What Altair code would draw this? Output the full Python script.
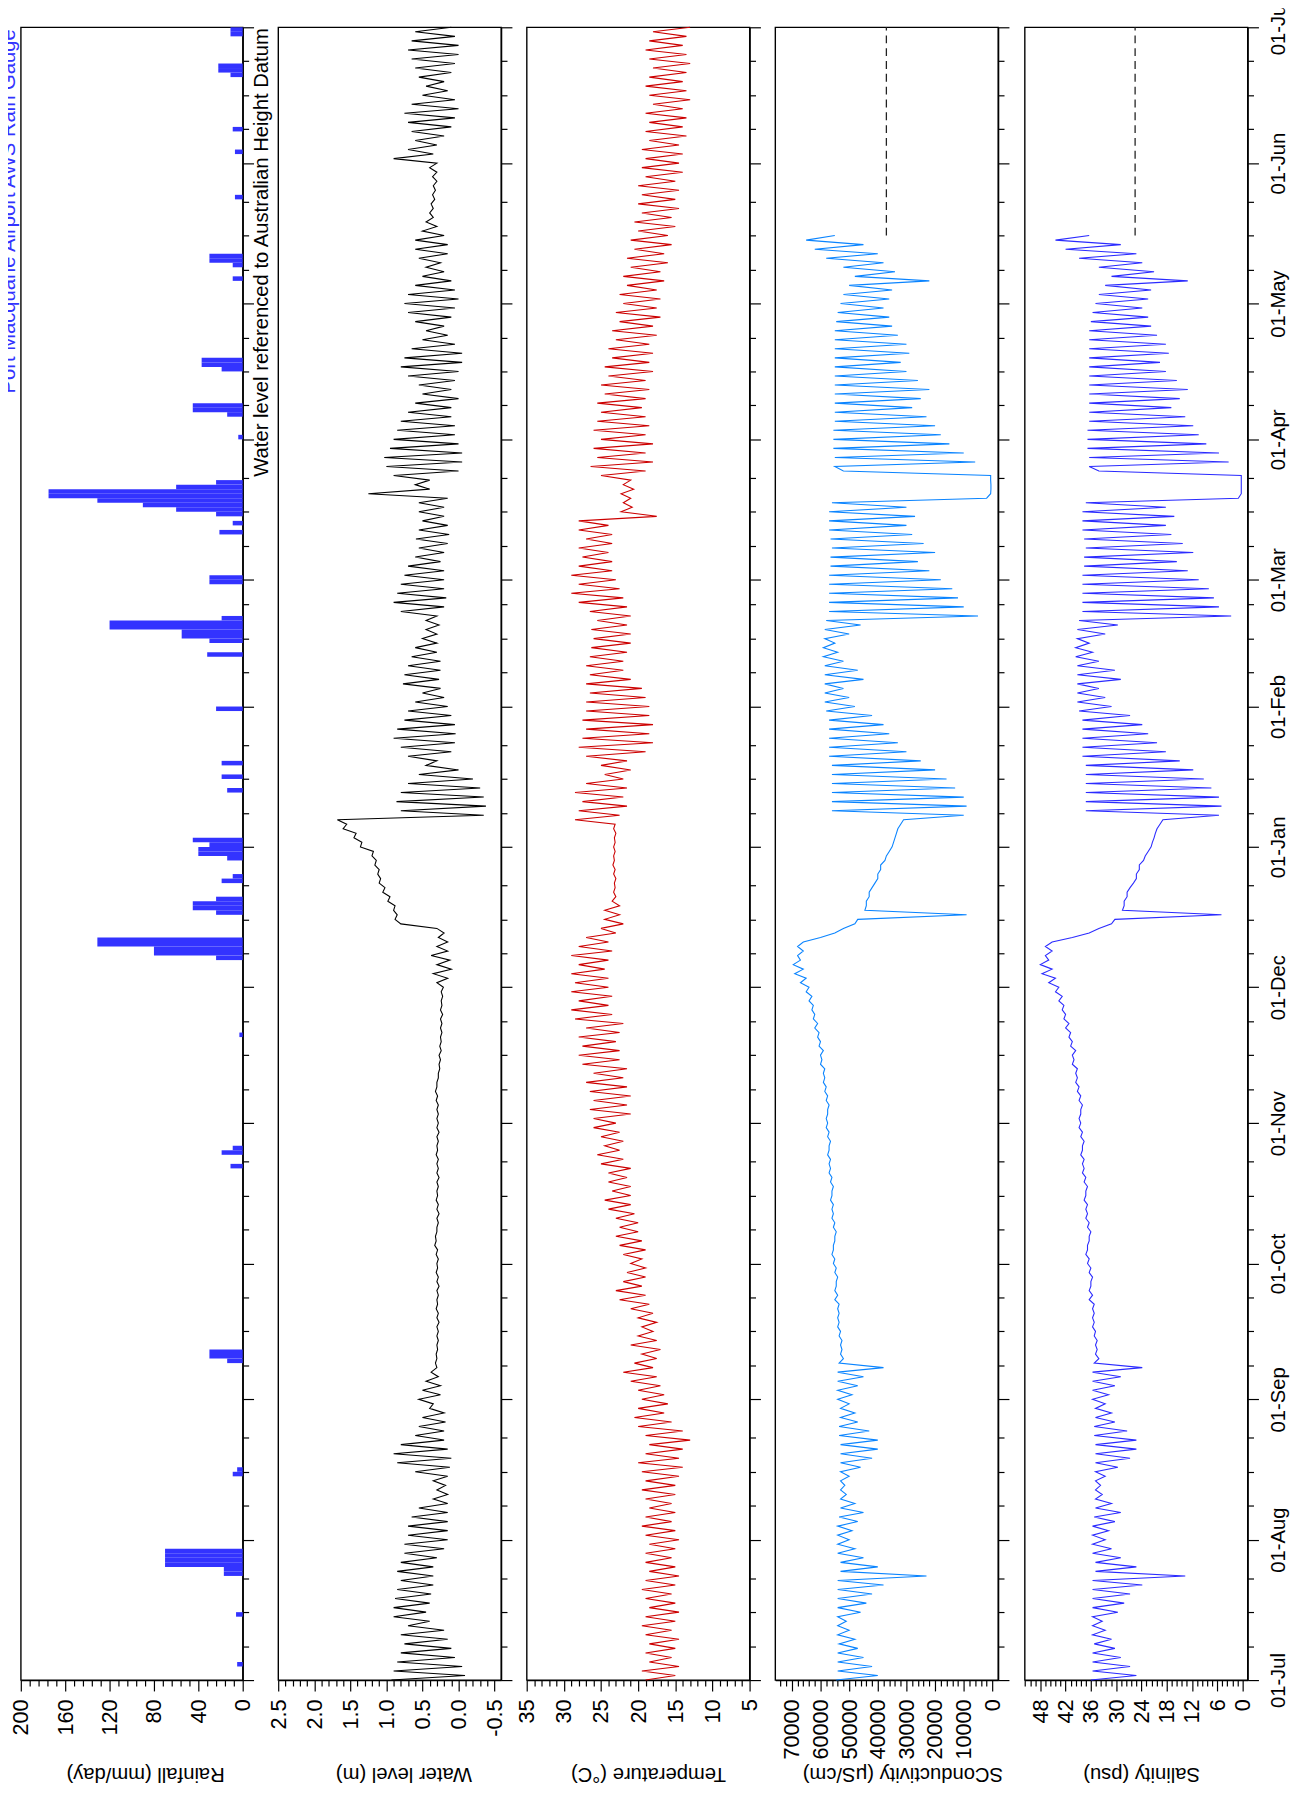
import altair as alt
import pandas as pd

# ---------------- data ----------------
START = "2012-07-01"          # logger series: two readings (A then B) per 2-day bin from START
END = "2013-07-01"

RAIN_DATES = ["2012-07-04", "2012-07-15", "2012-07-24", "2012-07-25", "2012-07-26", "2012-07-27",
              "2012-07-28", "2012-07-29", "2012-08-15", "2012-08-16", "2012-09-09", "2012-09-10",
              "2012-09-11", "2012-10-22", "2012-10-25", "2012-10-26", "2012-11-20", "2012-12-07",
              "2012-12-08", "2012-12-09", "2012-12-10", "2012-12-11", "2012-12-17", "2012-12-18",
              "2012-12-19", "2012-12-20", "2012-12-24", "2012-12-25", "2012-12-29", "2012-12-30",
              "2012-12-31", "2013-01-01", "2013-01-02", "2013-01-13", "2013-01-16", "2013-01-19",
              "2013-01-31", "2013-02-12", "2013-02-15", "2013-02-16", "2013-02-17", "2013-02-18",
              "2013-02-19", "2013-02-20", "2013-02-28", "2013-03-01", "2013-03-11", "2013-03-13",
              "2013-03-15", "2013-03-16", "2013-03-17", "2013-03-18", "2013-03-19", "2013-03-20",
              "2013-03-21", "2013-03-22", "2013-04-01", "2013-04-06", "2013-04-07", "2013-04-08",
              "2013-04-16", "2013-04-17", "2013-04-18", "2013-05-06", "2013-05-09", "2013-05-10",
              "2013-05-11", "2013-05-24", "2013-06-03", "2013-06-08", "2013-06-20", "2013-06-21",
              "2013-06-22", "2013-06-29", "2013-06-30"]
RAIN_MM = [5, 6, 17, 17, 70, 70, 70, 70, 9, 5, 14, 30, 30, 11, 19, 9, 3, 24, 80, 80, 131,
           131, 24, 45, 45, 24, 19, 9, 14, 40, 40, 30, 45, 14, 19, 19, 24, 32, 30, 55, 55,
           120, 120, 19, 30, 30, 21, 9, 24, 60, 90, 131, 175, 175, 60, 24, 4, 14, 45, 45,
           19, 37, 37, 9, 9, 30, 30, 7, 7, 9, 11, 22, 22, 11, 11]

# water level (m AHD)
WL_A = [0.93, 0.9, 0.85, 0.8, 0.75, 0.8, 0.7, 0.9, 0.9, 0.88, 0.85, 0.8, 0.85, 0.8, 0.75, 0.75,
        0.7, 0.7, 0.65, 0.55, 0.35, 0.3, 0.35, 0.6, 0.85, 0.9, 0.8, 0.6, 0.55, 0.5, 0.4,
        0.55, 0.5, 0.45, 0.38, 0.32, 0.31, 0.3, 0.3, 0.3, 0.3, 0.31, 0.3, 0.3, 0.3, 0.31,
        0.3, 0.31, 0.33, 0.32, 0.3, 0.3, 0.3, 0.31, 0.3, 0.3, 0.3, 0.3, 0.31, 0.3, 0.3, 0.3,
        0.3, 0.3, 0.31, 0.32, 0.3, 0.28, 0.27, 0.27, 0.26, 0.25, 0.25, 0.25, 0.25, 0.24, 0.24,
        0.3, 0.35, 0.3, 0.38, 0.3, 0.28, 0.3, 0.88, 0.9, 0.98, 1.05, 1.1, 1.12, 1.16, 1.2,
        1.36, 1.45, 1.6, 1.68, 0.8, 0.86, 0.8, 0.7, 0.55, 0.45, 0.7, 0.8, 0.9, 0.85, 0.75,
        0.7, 0.6, 0.5, 0.77, 0.75, 0.7, 0.65, 0.6, 0.5, 0.45, 0.45, 0.8, 0.9, 0.85,
        0.8, 0.75, 0.7, 0.6, 0.55, 0.59, 0.55, 0.5, 0.55, 0.55, 1.25, 0.6, 0.9, 1.0, 1.03, 0.95,
        0.9, 0.85, 0.8, 0.7, 0.6, 0.5, 0.55, 0.7, 0.8, 0.75, 0.65, 0.5, 0.45, 0.6, 0.7,
        0.75, 0.7, 0.6, 0.5, 0.45, 0.55, 0.6, 0.6, 0.5, 0.45, 0.4, 0.38, 0.36, 0.35, 0.36, 0.4,
        0.9, 0.7, 0.6, 0.65, 0.7, 0.75, 0.65, 0.5, 0.45, 0.55, 0.6, 0.65, 0.7, 0.65, 0.6]
WL_B = [-0.09, -0.05, 0.05, 0.1, 0.15, 0.2, 0.4, 0.45, 0.4, 0.38, 0.35, 0.35, 0.35, 0.3, 0.2, 0.15,
        0.15, 0.15, 0.15, 0.15, 0.15, 0.18, 0.15, 0.12, 0.1, 0.15, 0.2, 0.2, 0.18, 0.2, 0.35,
        0.25, 0.25, 0.28, 0.3, 0.3, 0.29, 0.28, 0.28, 0.27, 0.28, 0.29, 0.28, 0.27, 0.28, 0.29,
        0.28, 0.29, 0.31, 0.3, 0.28, 0.27, 0.28, 0.29, 0.28, 0.27, 0.28, 0.28, 0.29, 0.28, 0.27, 0.28,
        0.28, 0.28, 0.29, 0.3, 0.28, 0.26, 0.25, 0.24, 0.24, 0.23, 0.23, 0.22, 0.23, 0.22, 0.21,
        0.15, 0.1, 0.12, 0.15, 0.15, 0.2, 0.8, 0.85, 0.88, 0.95, 1.02, 1.08, 1.1, 1.14, 1.18,
        1.34, 1.42, 1.55, -0.35, -0.38, -0.35, -0.3, -0.2, 0.0, 0.3, 0.1, 0.05, 0.04, 0.05, 0.1,
        0.15, 0.2, 0.25, 0.27, 0.25, 0.25, 0.3, 0.3, 0.3, 0.27, 0.3, 0.2, 0.17, 0.2,
        0.2, 0.2, 0.25, 0.2, 0.15, 0.13, 0.15, 0.2, 0.2, 0.15, 0.4, 0.4, 0.0, -0.05, -0.05, 0.0,
        0.05, 0.05, 0.1, 0.1, 0.0, 0.1, 0.05, 0.0, -0.05, -0.05, 0.05, 0.15, 0.2, 0.1, 0.05,
        0.0, 0.05, 0.1, 0.2, 0.25, 0.15, 0.15, 0.2, 0.3, 0.35, 0.35, 0.33, 0.32, 0.3, 0.3, 0.3,
        0.35, 0.3, 0.2, 0.1, 0.05, 0.0, 0.05, 0.15, 0.2, 0.1, 0.05, 0.0, 0.0, 0.05, 0.1]

# temperature (deg C)
TEMP_A = [19, 19.5, 18.5, 19, 18.5, 19, 19.5, 19, 18.5, 19, 19.5, 19, 18.5, 19, 19, 18.5,
          19, 19.5, 19, 18.5, 19, 19.5, 19, 19.5, 20, 19, 18.5, 19, 20, 20.5, 20,
          19.5, 20, 21, 22, 20.5, 19.5, 21, 20, 19.5, 20, 21, 22.5, 23, 22, 21.5,
          21, 22, 22.5, 23, 22.5, 23, 24, 24.5, 23.5, 24, 24, 25, 25.5, 24.5, 25, 26,
          26, 26.5, 26, 26.5, 27, 26, 27.5, 28, 27.5, 28, 27, 28.5, 29, 28, 29,
          28.5, 29, 28, 29, 28, 27, 25, 24.5, 24.5, 23.5, 23.3, 23.2, 23.3, 23.4, 23.3,
          23.3, 23.2, 23.3, 28.5, 28, 27.5, 28.5, 27, 24.5, 25, 27, 28, 27.5, 27, 27.5,
          27, 27, 26.5, 27, 26.5, 27, 26.5, 26.3, 26, 26.3, 25.5, 26.5, 28, 29,
          28, 29, 28, 27.5, 28, 27, 28, 28, 22.3, 22, 22.3, 22, 25, 26.4, 25.5, 26,
          25, 26, 25.5, 25, 25.5, 24.5, 25, 24, 24.5, 23.5, 24, 23, 23.5, 22.5, 23,
          22, 22.5, 21.5, 22, 21, 21.5, 20.5, 21, 20, 20.5, 19.5, 20, 19.5, 20, 19, 19.5,
          19, 19.5, 18.5, 19, 18.5, 19, 18, 18.5, 19, 18.5, 18, 18.5, 19, 18.5, 18]
TEMP_B = [15, 14.5, 15.5, 15, 14.5, 15.5, 15, 14.5, 15, 15.5, 15, 14.5, 15, 15.5, 15, 14.5,
          15, 15.5, 15, 15.5, 15, 15, 14.5, 14, 14.5, 14, 13, 14, 15.5, 16.5, 16,
          16.5, 17, 17.5, 18, 17.5, 17, 17.5, 18, 17.5, 18, 18.5, 19, 19.5, 19, 19,
          19.5, 19, 19.5, 20, 20, 20.5, 21, 21, 21, 21.5, 21, 22, 22.5, 22, 22.5, 23,
          21, 21.5, 21, 21.5, 22, 21.5, 22.5, 22.5, 23, 22.5, 22, 23.5, 24, 23.5, 24,
          24, 24.5, 24, 23.5, 24, 23, 22, 22.5, 22.5, 23, 23.1, 23, 23.1, 23.2, 23.1,
          23.1, 23, 23.1, 22.5, 21.5, 22, 21.5, 22, 21, 21.5, 19, 18, 18.5, 18, 18.5,
          18.5, 19, 19.5, 21, 22, 22, 21.5, 21, 21, 21.5, 21, 21.5, 22, 22.5,
          23, 23.5, 23.5, 24, 23.5, 23.5, 24, 17.5, 20.8, 21, 20.6, 21, 19, 18, 19, 18,
          19, 18.5, 19, 19.5, 19, 18.5, 19, 18, 18.5, 18, 18.5, 17.5, 18, 17, 17.5,
          17, 17.5, 16.5, 17, 16, 16.5, 15.5, 16, 15, 15.5, 14.5, 15, 14.5, 15, 14, 14.5,
          14, 14.5, 13.5, 14, 13.5, 14, 13, 13.5, 14, 13.5, 13, 13.5, 14, 13.5, 13]

# specific conductivity (thousand uS/cm), record ends mid-May
COND_A_K = [54.5, 54, 54, 54, 53.5, 54, 54, 54, 54, 54, 54, 54, 53, 53, 54, 54,
            54, 54, 53.5, 53, 53, 53, 53, 53, 53, 53, 53, 53.5, 53.5, 53, 53,
            54, 54, 54, 54, 53.5, 53, 53, 53.5, 54, 54, 54, 55, 55, 54.5, 55,
            55.5, 56, 55.5, 55, 55.5, 56, 56, 56.5, 56, 56.5, 57, 57, 57.5, 57, 57.5, 58,
            58, 57.5, 58, 58.5, 59, 59, 60, 60, 60.5, 61, 62, 62.5, 63, 64, 65,
            67, 69, 69.5, 68, 68, 60, 52, 47, 44.5, 44, 43, 41, 40, 39, 37,
            35, 34, 33, 31, 56, 56, 56, 56, 56, 56, 57, 57, 57, 57, 57,
            58, 58.5, 58.5, 58.5, 58.5, 58.5, 59, 59, 58.5, 58.5, 58, 57, 57, 57,
            57, 57, 56.5, 56.5, 56, 56.5, 57, 57, 57, 56, 0.6, 0.5, 0.6, 55, 55, 55.5,
            55.5, 55.5, 55, 55, 55, 55, 55, 55, 55, 55, 55, 55, 55, 54.5, 54,
            53, 52, 50, 48, 52, 58, 62, 65]
COND_B_K = [40, 42, 45, 47, 48, 50, 51, 46, 44, 42, 38, 23, 40, 45, 48, 50,
            49, 47, 45, 48, 51, 51.5, 50, 46, 42, 40, 40, 43, 47, 48, 50,
            49, 47, 45, 38, 52, 52.5, 52.5, 53, 53.5, 53.5, 53.5, 54, 54.5, 54, 54.5,
            55, 55.5, 55, 54.5, 55, 55.5, 55.5, 56, 55.5, 56, 56.5, 56.5, 57, 56.5, 57, 57.5,
            57.5, 57, 57.5, 58, 58.5, 58.5, 59.5, 59, 60, 60.5, 61, 62, 62.5, 63, 64,
            65, 66, 67, 66, 66, 55, 48, 9, 44, 43, 42, 40, 39, 37.5, 36,
            34.5, 33.5, 32, 10, 9, 10, 13, 16, 20, 25, 30, 33, 36, 38, 42,
            48, 50, 52, 45, 47, 52, 54, 55, 50, 46, 5, 10, 12, 14,
            18, 22, 26, 20, 24, 28, 30, 27, 30, 2, 0.5, 0.6, 52, 6, 10, 15,
            18, 20, 23, 28, 25, 22, 26, 30, 32, 29, 30, 33, 35, 36, 38,
            36, 35, 22, 34, 38, 40, 45, 55]

# salinity (psu), record ends mid-May
SAL_A = [36, 35.6, 35.6, 35.6, 35.2, 35.6, 35.6, 35.6, 35.6, 35.6, 35.6, 35.6, 34.9, 34.9, 35.6, 35.6,
         35.6, 35.6, 35.2, 34.9, 34.9, 34.9, 34.9, 34.9, 34.9, 34.9, 34.9, 35.2, 35.2, 34.9, 34.9,
         35.6, 35.6, 35.6, 35.6, 35.2, 34.9, 34.9, 35.2, 35.6, 35.6, 35.6, 36.4, 36.4, 36, 36.4,
         36.8, 37.2, 36.8, 36.4, 36.8, 37.2, 37.2, 37.6, 37.2, 37.6, 38, 38, 38.4, 38, 38.4, 38.8,
         38.8, 38.4, 38.8, 39.2, 39.6, 39.6, 40.4, 40.4, 40.8, 41.2, 42, 42.4, 42.8, 43.6, 44.4,
         46, 47.6, 48, 46.8, 46.8, 40.4, 34.1, 30.3, 28.5, 28.1, 27.4, 25.9, 25.2, 24.5, 23.1,
         21.7, 21, 20.3, 18.9, 37.2, 37.2, 37.2, 37.2, 37.2, 37.2, 38, 38, 38, 38, 38,
         38.8, 39.2, 39.2, 39.2, 39.2, 39.2, 39.6, 39.6, 39.2, 39.2, 38.8, 38, 38, 38,
         38, 38, 37.6, 37.6, 37.2, 37.6, 38, 38, 38, 37.2, 0.3, 0.3, 0.3, 36.4, 36.4, 36.8,
         36.8, 36.8, 36.4, 36.4, 36.4, 36.4, 36.4, 36.4, 36.4, 36.4, 36.4, 36.4, 36.4, 36, 35.6,
         34.9, 34.1, 32.6, 31.1, 34.1, 38.8, 42, 44.4]
SAL_B = [25.2, 26.7, 28.9, 30.3, 31.1, 32.6, 33.3, 29.6, 28.1, 26.7, 23.8, 13.6, 25.2, 28.9, 31.1, 32.6,
         31.8, 30.3, 28.9, 31.1, 33.3, 33.7, 32.6, 29.6, 26.7, 25.2, 25.2, 27.4, 30.3, 31.1, 32.6,
         31.8, 30.3, 28.9, 23.8, 34.1, 34.5, 34.5, 34.9, 35.2, 35.2, 35.2, 35.6, 36, 35.6, 36,
         36.4, 36.8, 36.4, 36, 36.4, 36.8, 36.8, 37.2, 36.8, 37.2, 37.6, 37.6, 38, 37.6, 38, 38.4,
         38.4, 38, 38.4, 38.8, 39.2, 39.2, 40, 39.6, 40.4, 40.8, 41.2, 42, 42.4, 42.8, 43.6,
         44.4, 45.2, 46, 45.2, 45.2, 36.4, 31.1, 5, 28.1, 27.4, 26.7, 25.2, 24.5, 23.5, 22.4,
         21.4, 20.7, 19.6, 5.6, 5, 5.6, 7.4, 9.2, 11.7, 14.9, 18.2, 20.3, 22.4, 23.8, 26.7,
         31.1, 32.6, 34.1, 28.9, 30.3, 34.1, 35.6, 36.4, 32.6, 29.6, 2.7, 5.6, 6.8, 8,
         10.4, 13, 15.6, 11.7, 14.2, 16.9, 18.2, 16.2, 18.2, 1, 0.3, 0.3, 34.1, 3.3, 5.6, 8.6,
         10.4, 11.7, 13.6, 16.9, 14.9, 13, 15.6, 18.2, 19.6, 17.5, 18.2, 20.3, 21.7, 22.4, 23.8,
         22.4, 21.7, 13, 21, 23.8, 25.2, 28.9, 36.4]

# dashed reference lines (after the logger record ends)
LIMIT_START = "2013-05-16"
COND_LIMIT = 37000
SAL_LIMIT = 25.5

PORT_TEXT = "Port Macquarie Airport AWS  Rain Gauge"
WL_TEXT = "Water level referenced to Australian Height Datum"

# ---------------- styling ----------------
FONT = "Liberation Sans"
FS = 20.5        # titles, notes, date labels
TFS = 22         # value tick labels
H = 1676
W = 226
BLUE = "#3333ff"
COND_COLOR = "#0a84ff"
SAL_COLOR = "#2b2bff"
TEMP_COLOR = "#cc0000"


def iso(ts):
    return ts.strftime("%Y-%m-%dT%H:%M:%S")


def pair_df(a_vals, b_vals, scale=1.0):
    t0 = pd.Timestamp(START)
    rows = []
    for k, (a, b) in enumerate(zip(a_vals, b_vals)):
        rows.append({"t": iso(t0 + pd.Timedelta(days=2 * k)), "v": a * scale})
        rows.append({"t": iso(t0 + pd.Timedelta(days=2 * k + 1)), "v": b * scale})
    return pd.DataFrame(rows)


rain_df = pd.DataFrame({
    "t0": [iso(pd.Timestamp(d)) for d in RAIN_DATES],
    "t1": [iso(pd.Timestamp(d) + pd.Timedelta(days=1)) for d in RAIN_DATES],
    "mm": RAIN_MM,
})
wl_df = pair_df(WL_A, WL_B)
temp_df = pair_df(TEMP_A, TEMP_B)
cond_df = pair_df(COND_A_K, COND_B_K, 1000.0)
sal_df = pair_df(SAL_A, SAL_B)
lim_df_c = pd.DataFrame({"v": [COND_LIMIT], "t0": [LIMIT_START + "T00:00:00"], "t1": [END + "T00:00:00"]})
lim_df_s = pd.DataFrame({"v": [SAL_LIMIT], "t0": [LIMIT_START + "T00:00:00"], "t1": [END + "T00:00:00"]})


def dt(y, m, d, h=0):
    return alt.DateTime(year=y, month=m, date=d, hours=h)


TIME_TICKS = []
for i in range(12):
    yy = 2012 + (6 + i) // 12
    mm = (6 + i) % 12 + 1
    TIME_TICKS += [dt(yy, mm, 1), dt(yy, mm, 8, 12), dt(yy, mm, 16), dt(yy, mm, 23, 12)]
TIME_TICKS.append(dt(2013, 7, 1))

MAJOR_T = "date(datum.value) == 1 && hours(datum.value) == 0"
RAIN_TICKS = list(range(0, 201, 8))
WL_TICKS = [round(-0.5 + 0.1 * i, 1) for i in range(31)]
TEMP_TICKS = list(range(5, 36))
COND_TICKS = list(range(0, 75000, 2000))
SAL_TICKS = [round(1.2 * i, 1) for i in range(44)]
ASCII_LABEL = "replace(datum.label, '\u2212', '-')"


def build(show_top_label):
    yscale = alt.Scale(domain=[dt(2012, 7, 1), dt(2013, 7, 1)], nice=False)
    if show_top_label:
        lab = "(" + MAJOR_T + ") ? datum.label : ''"
    else:
        lab = "(" + MAJOR_T + " && !(year(datum.value) == 2013 && month(datum.value) == 6)) ? datum.label : ''"

    def y_enc(field, labels):
        return alt.Y(
            field, type="temporal", scale=yscale, title=None,
            axis=alt.Axis(
                orient="right", values=TIME_TICKS, grid=False, labels=labels,
                format="%d-%b", labelExpr=lab, labelFontSize=FS,
                labelAngle=270, labelAlign="center", labelBaseline="top", labelPadding=10,
                labelOverlap=False, labelFlush=False, labelBound=False,
                tickSize={"condition": {"test": MAJOR_T, "value": 11}, "value": 6},
            ),
        )

    def x_enc(field, domain, values, major_test, fmt, title, title_x):
        return alt.X(
            field, type="quantitative",
            scale=alt.Scale(domain=domain, reverse=True, nice=False, zero=False),
            axis=alt.Axis(
                values=values, format=fmt, grid=False, labelFontSize=TFS,
                labelExpr="(" + major_test + ") ? " + ASCII_LABEL + " : ''",
                labelAngle=270, labelAlign="right", labelBaseline="middle", labelPadding=8,
                labelOverlap=False, labelFlush=False, labelBound=False,
                tickSize={"condition": {"test": major_test, "value": 11}, "value": 6},
                title=title, titleAngle=180, titleBaseline="middle", titleAlign="center",
                titleY=95, titleX=title_x,
            ),
        )

    rain_x = x_enc("mm", [0, 200], RAIN_TICKS, "datum.value % 40 == 0", "d", "Rainfall (mm/day)", 126)
    rain_bars = alt.Chart(rain_df).mark_rect(color=BLUE).encode(
        x=rain_x, x2=alt.datum(0), y=y_enc("t0", False), y2="t1:T")
    rain_text = alt.Chart(pd.DataFrame({"s": [PORT_TEXT]})).mark_text(
        angle=270, align="right", baseline="top", font=FONT, fontSize=FS, color=BLUE
    ).encode(text="s:N", x=alt.value(-22 if show_top_label else -12), y=alt.value(2))
    rain = alt.layer(rain_bars, rain_text).properties(width=225, height=H)

    wl_x = x_enc("v", [-0.59, 2.5], WL_TICKS, "abs(datum.value * 2 - round(datum.value * 2)) < 0.01",
                 ".1f", "Water level (m)", 127)
    wl_line = alt.Chart(wl_df).mark_line(color="black", strokeWidth=1.1).encode(
        x=wl_x, y=y_enc("t", False), order="t:T")
    wl_text = alt.Chart(pd.DataFrame({"s": [WL_TEXT]})).mark_text(
        angle=270, align="right", baseline="top", font=FONT, fontSize=FS, color="black"
    ).encode(text="s:N", x=alt.value(-26), y=alt.value(1))
    water = alt.layer(wl_line, wl_text).properties(width=W, height=H)

    temp_x = x_enc("v", [5, 35], TEMP_TICKS, "datum.value % 5 == 0", "d", "Temperature (\u00b0C)", 123)
    temp = alt.Chart(temp_df).mark_line(color=TEMP_COLOR, strokeWidth=1.1).encode(
        x=temp_x, y=y_enc("t", False), order="t:T").properties(width=W, height=H)

    cond_x = x_enc("v", [-2000, 75800], COND_TICKS, "datum.value % 10000 == 0", "d",
                   "SConductivity (\u03bcS/cm)", 129)
    cond_line = alt.Chart(cond_df).mark_line(color=COND_COLOR, strokeWidth=1.1).encode(
        x=cond_x, y=y_enc("t", False), order="t:T")
    cond_lim = alt.Chart(lim_df_c).mark_rule(color="#222222", strokeWidth=1.3, strokeDash=[8, 5]).encode(
        x=cond_x, y=y_enc("t0", False), y2="t1:T")
    cond = alt.layer(cond_line, cond_lim).properties(width=W, height=H)

    sal_x = x_enc("v", [-1.2, 51.7], SAL_TICKS, "abs(datum.value / 6 - round(datum.value / 6)) < 0.001",
                  "d", "Salinity (psu)", 118)
    sal_line = alt.Chart(sal_df).mark_line(color=SAL_COLOR, strokeWidth=1.1).encode(
        x=sal_x, y=y_enc("t", True), order="t:T")
    sal_lim = alt.Chart(lim_df_s).mark_rule(color="#222222", strokeWidth=1.3, strokeDash=[8, 5]).encode(
        x=sal_x, y=y_enc("t0", True), y2="t1:T")
    sal = alt.layer(sal_line, sal_lim).properties(width=W, height=H)

    def spacer(w):
        return alt.Chart(pd.DataFrame({"s": [0]})).mark_point(opacity=0, size=1).encode(
            x=alt.value(0), y=alt.value(H / 2)
        ).properties(width=w, height=H, view=alt.ViewBackground(strokeOpacity=0))

    pad = ({"left": -10, "top": -22, "right": 0, "bottom": 0} if show_top_label
           else {"left": 0, "top": 6, "right": 0, "bottom": 0})
    return alt.hconcat(
        rain, spacer(36), water, spacer(26), temp, spacer(26), cond, spacer(27), sal,
        spacing=0, bounds="flush",
    ).properties(padding=pad).configure_view(
        stroke="black", strokeWidth=1.4
    ).configure_axis(
        labelFont=FONT, titleFont=FONT, labelFontSize=FS, titleFontSize=FS,
        titleFontWeight="normal", labelColor="black", titleColor="black",
        domainColor="black", domainWidth=1.4, tickColor="black", tickWidth=1.2,
    )


try:
    chart = build(True)
    chart.to_dict()
except Exception:
    chart = build(False)

chart.save("out.html", embed_options={"renderer": "svg", "actions": False})
